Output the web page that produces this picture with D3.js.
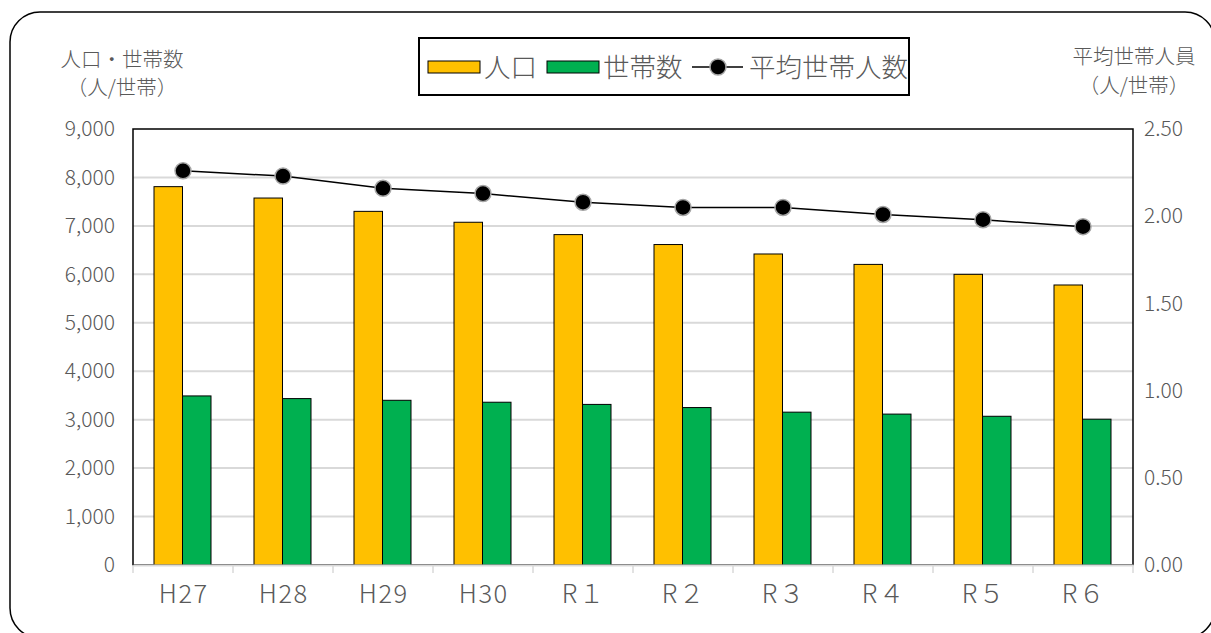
<!DOCTYPE html>
<html><head><meta charset="utf-8">
<script src="https://cdn.jsdelivr.net/npm/d3@7"></script>
<style>
html,body{margin:0;padding:0;background:#fff;}
svg{display:block;font-family:"Noto Sans CJK JP","Noto Sans",sans-serif;font-weight:300;}
</style></head>
<body>
<svg id="c" width="1211" height="633"></svg>
<script>
const categories = ["H27","H28","H29","H30","R１","R２","R３","R４","R５","R６"];
const population = [7810,7575,7300,7075,6820,6615,6420,6205,6000,5780];
const households = [3490,3435,3400,3360,3315,3250,3155,3115,3070,3010];
const avgPerHousehold = [2.26,2.23,2.16,2.13,2.08,2.05,2.05,2.01,1.98,1.94];
const leftTicks = [0,1000,2000,3000,4000,5000,6000,7000,8000,9000];
const rightTicks = [0,0.5,1.0,1.5,2.0,2.5];

const svg = d3.select("#c");
const m = {l:133, r:1133, t:129, b:565};
const grey = "#595959";
const FF = "'Noto Sans CJK JP','Noto Sans',sans-serif";

svg.append("rect").attr("x",10).attr("y",12).attr("width",1205).attr("height",626)
  .attr("rx",30).attr("ry",30).attr("fill","#fff").attr("stroke","#000").attr("stroke-width",1.5);

const x = d3.scaleBand().domain(categories).range([m.l,m.r]).paddingInner(0).paddingOuter(0);
const yL = d3.scaleLinear().domain([0,9000]).range([m.b,m.t]);
const yR = d3.scaleLinear().domain([0,2.5]).range([m.b,m.t]);
const bw = 28.5;

// gridlines
svg.append("g").selectAll("line").data(leftTicks.filter(d=>d>0&&d<9000)).join("line")
  .attr("x1",m.l).attr("x2",m.r).attr("y1",d=>yL(d)).attr("y2",d=>yL(d))
  .attr("stroke","#d9d9d9").attr("stroke-width",2);

// plot border
svg.append("rect").attr("x",m.l).attr("y",m.t).attr("width",m.r-m.l).attr("height",m.b-m.t)
  .attr("fill","none").attr("stroke","#000").attr("stroke-width",1.5);

// bars
const cx = d => x(d) + x.bandwidth()/2;
svg.append("g").selectAll("rect").data(categories).join("rect")
  .attr("x",d=>cx(d)-bw-0.5).attr("width",bw)
  .attr("y",(d,i)=>yL(population[i])).attr("height",(d,i)=>yL(0)-yL(population[i]))
  .attr("fill","#ffc000").attr("stroke","#000").attr("stroke-width",1);
svg.append("g").selectAll("rect").data(categories).join("rect")
  .attr("x",d=>cx(d)-0.5).attr("width",bw)
  .attr("y",(d,i)=>yL(households[i])).attr("height",(d,i)=>yL(0)-yL(households[i]))
  .attr("fill","#00b050").attr("stroke","#000").attr("stroke-width",1);

// bottom axis
const xAxis = svg.append("g").attr("transform",`translate(0,${m.b})`)
  .call(d3.axisBottom(x).tickSize(0).tickPadding(20));
xAxis.select(".domain").attr("stroke","#d9d9d9").attr("stroke-width",2);
xAxis.selectAll("text").attr("font-size",25.5).attr("fill",grey).attr("font-family",FF)
  .attr("font-weight",300).attr("letter-spacing",1.5).attr("dx",0.75);
svg.append("g").selectAll("line").data(d3.range(categories.length+1)).join("line")
  .attr("x1",i=>m.l+i*x.step()).attr("x2",i=>m.l+i*x.step())
  .attr("y1",m.b).attr("y2",m.b+8).attr("stroke","#d9d9d9").attr("stroke-width",1.5);

// left axis
const la = svg.append("g").attr("transform",`translate(${m.l},0)`)
  .call(d3.axisLeft(yL).tickValues(leftTicks).tickSize(0).tickPadding(18).tickFormat(d3.format(",")));
la.select(".domain").remove();
la.selectAll("text").attr("font-size",21).attr("fill",grey).attr("font-family",FF).attr("font-weight",300);

// right axis
const ra = svg.append("g").attr("transform",`translate(${m.r},0)`)
  .call(d3.axisRight(yR).tickValues(rightTicks).tickSize(0).tickPadding(11).tickFormat(d3.format(".2f")));
ra.select(".domain").remove();
ra.selectAll("text").attr("font-size",21).attr("fill",grey).attr("font-family",FF).attr("font-weight",300);

// line
const line = d3.line().x((d,i)=>cx(categories[i])).y(d=>yR(d));
svg.append("path").datum(avgPerHousehold).attr("d",line).attr("fill","none")
  .attr("stroke","#000").attr("stroke-width",1.5);
svg.append("g").selectAll("circle").data(avgPerHousehold).join("circle")
  .attr("cx",(d,i)=>cx(categories[i])).attr("cy",d=>yR(d)).attr("r",8)
  .attr("fill","#000").attr("stroke","#a6a6a6").attr("stroke-width",1.5);

// axis titles
const t1 = svg.append("text").attr("fill",grey).attr("font-size",20.5).attr("text-anchor","middle");
t1.append("tspan").attr("x",122).attr("y",67).text("人口・世帯数");
t1.append("tspan").attr("x",122).attr("y",95).text("（人/世帯）");
const t2 = svg.append("text").attr("fill",grey).attr("font-size",20.5).attr("text-anchor","middle");
t2.append("tspan").attr("x",1134).attr("y",64).text("平均世帯人員");
t2.append("tspan").attr("x",1134).attr("y",93).text("（人/世帯）");

// legend
const lg = svg.append("g");
lg.append("rect").attr("x",419).attr("y",38).attr("width",490).attr("height",57)
  .attr("fill","#fff").attr("stroke","#000").attr("stroke-width",2);
lg.append("rect").attr("x",428).attr("y",61).attr("width",52).attr("height",12)
  .attr("fill","#ffc000").attr("stroke","#000").attr("stroke-width",1);
lg.append("text").attr("x",484).attr("y",77).attr("font-size",26.5).attr("fill",grey).text("人口");
lg.append("rect").attr("x",547).attr("y",61).attr("width",52).attr("height",12)
  .attr("fill","#00b050").attr("stroke","#000").attr("stroke-width",1);
lg.append("text").attr("x",603).attr("y",77).attr("font-size",26.5).attr("fill",grey).text("世帯数");
lg.append("line").attr("x1",692).attr("x2",743).attr("y1",67).attr("y2",67).attr("stroke","#000").attr("stroke-width",1.5);
lg.append("circle").attr("cx",718).attr("cy",67).attr("r",8).attr("fill","#000").attr("stroke","#a6a6a6").attr("stroke-width",1.5);
lg.append("text").attr("x",749).attr("y",77).attr("font-size",26.5).attr("fill",grey).text("平均世帯人数");
</script>
</body></html>
